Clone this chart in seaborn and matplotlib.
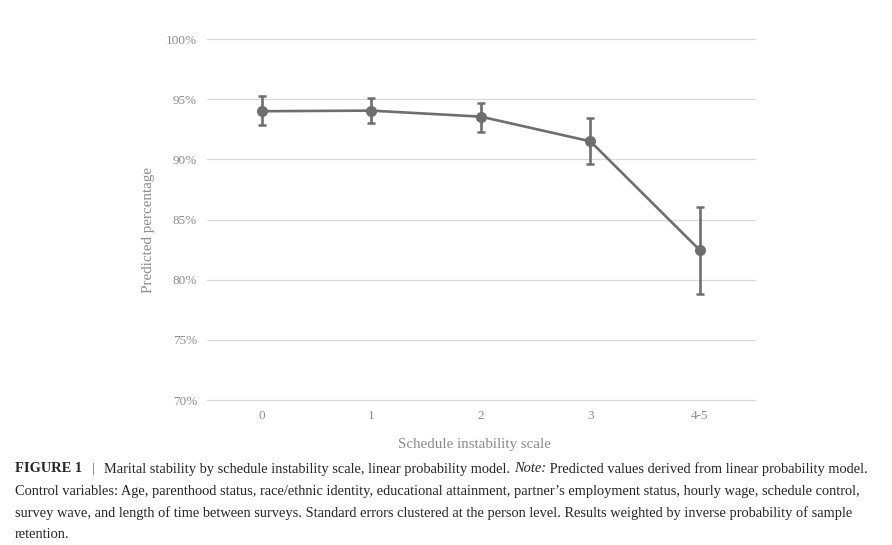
import matplotlib.pyplot as plt
import seaborn as sns
import pandas as pd
import numpy as np
from matplotlib.ticker import PercentFormatter

sns.set_theme(style="white")
plt.rcParams['font.family'] = ['Liberation Serif', 'DejaVu Serif']

# values
categories = ["0", "1", "2", "3", "4-5"]
predicted = [94.0, 94.05, 93.55, 91.5, 82.45]
ci_low = [92.85, 93.0, 92.3, 89.6, 78.85]
ci_high = [95.25, 95.1, 94.7, 93.45, 86.05]

df = pd.DataFrame({"pos": np.arange(len(categories)), "scale": categories,
                   "pred": predicted, "lo": ci_low, "hi": ci_high})

line_col = "#6e6e70"
text_col = "#8c8c8c"

fig = plt.figure(figsize=(8.92, 5.45), dpi=100)
ax = fig.add_axes([0.232, 0.266, 0.614, 0.6624])

sns.lineplot(data=df, x="pos", y="pred", ax=ax, color=line_col, lw=1.9,
             marker="o", markersize=8, markeredgewidth=0, zorder=3)
ax.errorbar(df["pos"], df["pred"],
            yerr=[df["pred"] - df["lo"], df["hi"] - df["pred"]],
            fmt="none", ecolor=line_col, elinewidth=1.9, capsize=3, capthick=1.8, zorder=3)

ax.set_xlim(-0.5, len(categories) - 0.5)
ax.set_ylim(70, 100)
ax.set_yticks(range(70, 101, 5))
ax.yaxis.set_major_formatter(PercentFormatter(decimals=0))
ax.set_xticks(df["pos"])
ax.set_xticklabels(categories)
ax.grid(axis="y", color="#d9d9d9", lw=0.9)
ax.grid(axis="x", visible=False)
for gl in ax.get_ygridlines():
    gl.set_clip_on(False)
for s in ax.spines.values():
    s.set_visible(False)
ax.tick_params(axis="both", length=0, labelsize=9.5, labelcolor=text_col)
ax.tick_params(axis="y", pad=7)
ax.tick_params(axis="x", pad=7)

ax.set_xlabel("Schedule instability scale", fontsize=10.8, color=text_col)
ax.set_ylabel("Predicted percentage", fontsize=10.8, color=text_col)
ax.xaxis.set_label_coords((475 - 207) / 548, -(444 - 400) / 361)
ax.yaxis.set_label_coords(-(207 - 149) / 548, (400 - 230) / 361)
ax.xaxis.label.set_va("center")
ax.yaxis.label.set_va("center")

caption_lines = [
    None,
    "Control variables: Age, parenthood status, race/ethnic identity, educational attainment, partner\u2019s employment status, hourly wage, schedule control,",
    "survey wave, and length of time between surveys. Standard errors clustered at the person level. Results weighted by inverse probability of sample",
    "retention.",
]
cap_size = 10.4
cap_col = "#262626"
y0 = 1 - 469 / 545
step = 22 / 545
# first line with mixed styles
t = fig.text(15 / 892, y0, "FIGURE 1", fontsize=cap_size, fontweight="bold", color=cap_col, va="center")
fig.canvas.draw()
r = fig.canvas.get_renderer()
x = t.get_window_extent(r).x1
t1 = fig.text(x / 892 + 0.011, y0, "|", fontsize=cap_size - 1, color="#555555", va="center")
x = t1.get_window_extent(r).x1
t2 = fig.text(x / 892 + 0.011, y0, "Marital stability by schedule instability scale, linear probability model. ",
              fontsize=cap_size, color=cap_col, va="center")
x = t2.get_window_extent(r).x1
t3 = fig.text(x / 892, y0, "Note:", fontsize=cap_size, style="italic", color=cap_col, va="center")
x = t3.get_window_extent(r).x1
fig.text(x / 892, y0, " Predicted values derived from linear probability model.",
         fontsize=cap_size, color=cap_col, va="center")
for i, line in enumerate(caption_lines[1:], start=1):
    fig.text(15 / 892, y0 - i * step, line, fontsize=cap_size, color=cap_col, va="center")

fig.savefig("out.png", dpi=100)
